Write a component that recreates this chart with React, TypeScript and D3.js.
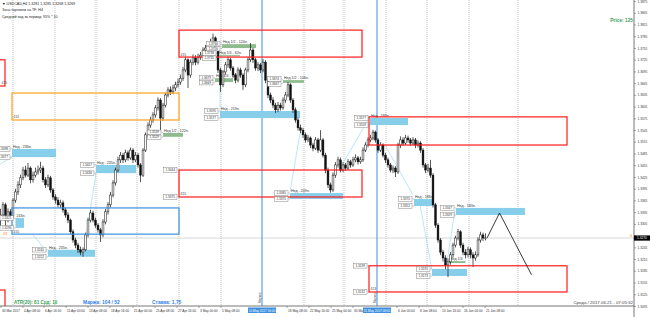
import React from "react";
import * as d3 from "d3";

type C = [number, number, number, number]; // open, high, low, close

// USDCAD H4 candles, 30 Mar - 10 May 2017
const candlesMarApr: C[] = [
  [1.3316,1.3345,1.3300,1.3329],[1.3329,1.3362,1.3322,1.3355],[1.3355,1.3360,1.3297,1.3316],[1.3316,1.3346,1.3310,1.3337],
  [1.3337,1.3344,1.3318,1.3326],[1.3326,1.3372,1.3320,1.3367],[1.3367,1.3396,1.3360,1.3388],[1.3388,1.3415,1.3380,1.3406],
  [1.3406,1.3432,1.3398,1.3424],[1.3424,1.3452,1.3418,1.3444],[1.3444,1.3455,1.3425,1.3431],[1.3431,1.3462,1.3426,1.3449],
  [1.3449,1.3453,1.3410,1.3419],[1.3419,1.3440,1.3412,1.3431],[1.3431,1.3450,1.3425,1.3439],[1.3439,1.3455,1.3432,1.3444],
  [1.3444,1.3465,1.3436,1.3449],[1.3449,1.3455,1.3412,1.3419],[1.3419,1.3426,1.3398,1.3406],[1.3406,1.3432,1.3400,1.3424],
  [1.3424,1.3429,1.3386,1.3393],[1.3393,1.3398,1.3368,1.3375],[1.3375,1.3382,1.3358,1.3367],[1.3367,1.3374,1.3348,1.3355],
  [1.3355,1.3368,1.3347,1.3360],[1.3360,1.3366,1.3335,1.3342],[1.3342,1.3348,1.3322,1.3329],[1.3329,1.3336,1.3308,1.3316],
  [1.3316,1.3320,1.3280,1.3286],[1.3286,1.3292,1.3258,1.3265],[1.3265,1.3271,1.3244,1.3252],[1.3252,1.3258,1.3232,1.3240],
  [1.3240,1.3248,1.3226,1.3234],[1.3234,1.3246,1.3222,1.3240],[1.3240,1.3284,1.3236,1.3278],[1.3278,1.3322,1.3272,1.3316],
  [1.3316,1.3342,1.3310,1.3334],[1.3334,1.3340,1.3310,1.3316],[1.3316,1.3322,1.3296,1.3303],[1.3303,1.3308,1.3284,1.3291],
  [1.3291,1.3296,1.3260,1.3278],[1.3278,1.3318,1.3272,1.3311],[1.3311,1.3344,1.3305,1.3337],[1.3337,1.3362,1.3330,1.3355],
  [1.3355,1.3388,1.3348,1.3380],[1.3380,1.3418,1.3374,1.3411],[1.3411,1.3450,1.3404,1.3444],[1.3444,1.3478,1.3438,1.3470],
  [1.3470,1.3490,1.3462,1.3482],[1.3482,1.3488,1.3462,1.3470],[1.3470,1.3496,1.3464,1.3488],[1.3488,1.3494,1.3468,1.3475],
  [1.3475,1.3502,1.3470,1.3495],[1.3495,1.3500,1.3462,1.3470],[1.3470,1.3490,1.3464,1.3482],[1.3482,1.3488,1.3450,1.3457],
  [1.3457,1.3462,1.3413,1.3431],[1.3431,1.3500,1.3426,1.3495],[1.3495,1.3540,1.3490,1.3534],[1.3534,1.3566,1.3528,1.3559],
  [1.3559,1.3580,1.3552,1.3572],[1.3572,1.3592,1.3565,1.3585],[1.3585,1.3610,1.3578,1.3603],[1.3603,1.3630,1.3596,1.3623],
  [1.3623,1.3628,1.3546,1.3577],[1.3577,1.3616,1.3570,1.3610],[1.3610,1.3642,1.3604,1.3636],[1.3636,1.3656,1.3630,1.3649],
  [1.3649,1.3658,1.3636,1.3644],[1.3644,1.3662,1.3638,1.3654],[1.3654,1.3670,1.3646,1.3662],
];
const candlesMay: C[] = [
  [1.3662,1.3678,1.3655,1.3669],[1.3669,1.3688,1.3662,1.3679],[1.3679,1.3708,1.3672,1.3700],[1.3700,1.3734,1.3694,1.3726],
  [1.3726,1.3730,1.3654,1.3687],[1.3687,1.3727,1.3680,1.3720],[1.3720,1.3740,1.3712,1.3731],[1.3731,1.3738,1.3712,1.3720],
  [1.3720,1.3742,1.3714,1.3733],[1.3733,1.3746,1.3726,1.3738],[1.3738,1.3758,1.3730,1.3751],[1.3751,1.3764,1.3744,1.3756],
  [1.3756,1.3772,1.3748,1.3764],[1.3764,1.3780,1.3757,1.3772],[1.3772,1.3793,1.3765,1.3782],[1.3782,1.3786,1.3744,1.3751],
  [1.3751,1.3756,1.3692,1.3700],[1.3700,1.3706,1.3644,1.3662],[1.3662,1.3700,1.3656,1.3695],[1.3695,1.3720,1.3688,1.3713],
  [1.3713,1.3734,1.3706,1.3726],[1.3726,1.3731,1.3698,1.3705],[1.3705,1.3710,1.3680,1.3687],[1.3687,1.3692,1.3666,1.3674],
  [1.3674,1.3707,1.3668,1.3700],[1.3700,1.3706,1.3680,1.3687],[1.3687,1.3692,1.3649,1.3662],[1.3662,1.3706,1.3656,1.3700],
  [1.3700,1.3733,1.3694,1.3726],[1.3726,1.3769,1.3720,1.3751],[1.3751,1.3756,1.3718,1.3726],[1.3726,1.3731,1.3698,1.3705],
  [1.3705,1.3720,1.3697,1.3713],[1.3713,1.3718,1.3692,1.3700],[1.3700,1.3728,1.3694,1.3720],[1.3720,1.3725,1.3666,1.3674],
  [1.3674,1.3680,1.3628,1.3636],[1.3636,1.3642,1.3615,1.3623],[1.3623,1.3630,1.3602,1.3610],[1.3610,1.3616,1.3590,1.3598],
  [1.3598,1.3618,1.3592,1.3610],[1.3610,1.3616,1.3596,1.3603],[1.3603,1.3630,1.3598,1.3623],[1.3623,1.3644,1.3616,1.3636],
  [1.3636,1.3669,1.3630,1.3662],[1.3662,1.3666,1.3616,1.3623],[1.3623,1.3628,1.3590,1.3598],[1.3598,1.3604,1.3565,1.3572],
  [1.3572,1.3578,1.3545,1.3552],[1.3552,1.3560,1.3538,1.3546],[1.3546,1.3552,1.3526,1.3534],[1.3534,1.3540,1.3514,1.3521],
  [1.3521,1.3534,1.3515,1.3526],[1.3526,1.3530,1.3500,1.3508],[1.3508,1.3514,1.3492,1.3500],[1.3500,1.3528,1.3495,1.3521],
  [1.3521,1.3526,1.3488,1.3495],[1.3495,1.3546,1.3490,1.3521],[1.3521,1.3526,1.3476,1.3482],[1.3482,1.3488,1.3436,1.3444],
  [1.3444,1.3450,1.3398,1.3406],[1.3406,1.3412,1.3386,1.3393],[1.3393,1.3438,1.3388,1.3431],[1.3431,1.3464,1.3424,1.3457],
  [1.3457,1.3478,1.3450,1.3470],[1.3470,1.3476,1.3438,1.3444],[1.3444,1.3464,1.3438,1.3457],[1.3457,1.3462,1.3442,1.3449],
  [1.3449,1.3472,1.3444,1.3465],[1.3465,1.3470,1.3450,1.3457],[1.3457,1.3478,1.3452,1.3470],[1.3470,1.3484,1.3464,1.3475],
  [1.3475,1.3480,1.3458,1.3465],[1.3465,1.3478,1.3460,1.3470],[1.3470,1.3502,1.3465,1.3495],[1.3495,1.3515,1.3490,1.3508],
  [1.3508,1.3528,1.3502,1.3521],[1.3521,1.3534,1.3515,1.3526],[1.3526,1.3547,1.3520,1.3541],[1.3541,1.3545,1.3514,1.3521],
  [1.3521,1.3526,1.3488,1.3495],[1.3495,1.3515,1.3490,1.3508],[1.3508,1.3512,1.3476,1.3482],[1.3482,1.3488,1.3462,1.3470],
  [1.3470,1.3476,1.3450,1.3457],[1.3457,1.3462,1.3438,1.3444],[1.3444,1.3456,1.3436,1.3449],[1.3449,1.3454,1.3426,1.3439],
];
const candlesJun: C[] = [
  [1.3439,1.3514,1.3434,1.3508],[1.3508,1.3530,1.3500,1.3521],[1.3521,1.3528,1.3506,1.3513],[1.3513,1.3534,1.3508,1.3526],
  [1.3526,1.3532,1.3514,1.3521],[1.3521,1.3526,1.3506,1.3513],[1.3513,1.3528,1.3508,1.3521],[1.3521,1.3526,1.3500,1.3508],
  [1.3508,1.3520,1.3502,1.3513],[1.3513,1.3518,1.3488,1.3495],[1.3495,1.3500,1.3450,1.3457],[1.3457,1.3462,1.3436,1.3444],
  [1.3444,1.3460,1.3438,1.3449],[1.3449,1.3470,1.3424,1.3431],[1.3431,1.3436,1.3348,1.3355],[1.3355,1.3360,1.3296,1.3303],
  [1.3303,1.3308,1.3258,1.3265],[1.3265,1.3270,1.3226,1.3234],[1.3234,1.3240,1.3210,1.3219],[1.3219,1.3226,1.3190,1.3201],
  [1.3201,1.3218,1.3170,1.3209],[1.3209,1.3234,1.3202,1.3227],[1.3227,1.3258,1.3220,1.3252],[1.3252,1.3276,1.3246,1.3270],
  [1.3270,1.3293,1.3264,1.3286],[1.3286,1.3290,1.3245,1.3252],[1.3252,1.3258,1.3226,1.3234],[1.3234,1.3242,1.3218,1.3227],
  [1.3227,1.3248,1.3220,1.3240],[1.3240,1.3246,1.3218,1.3227],[1.3227,1.3234,1.3196,1.3219],[1.3219,1.3236,1.3212,1.3227],
  [1.3227,1.3272,1.3222,1.3265],[1.3265,1.3286,1.3258,1.3278],[1.3278,1.3284,1.3262,1.3270],[1.3270,1.3282,1.3264,1.3270],
];

const bidPrice = 1.3270;

// right price scale labels
const priceTicks = [1.3875,1.3845,1.3815,1.3785,1.3755,1.3725,1.3695,1.3665,1.3635,1.3605,1.3575,1.3545,1.3515,1.3485,
  1.3455,1.3425,1.3395,1.3365,1.3335,1.3305,1.3275,1.3245,1.3215,1.3185,1.3155,1.3125,1.3095];

// time scale labels (bar index where the label starts)
const timeIdx = [0.2,9,17.4,26.2,35,43.8,53,61.8,70.6,79.4,88.2,114.6,123.4,132.2,141,158.6,167.4,176.2,185,193.8];
const timeText = ["30 Mar 2017","4 Apr 08:00","6 Apr 16:00","11 Apr 00:00","13 Apr 08:00","18 Apr 16:00","21 Apr 00:00",
  "25 Apr 08:00","27 Apr 16:00","3 May 00:00","5 May 08:00","18 May 08:00","22 May 16:00","25 May 00:00","30 May 08:00",
  "6 Jun 00:00","8 Jun 08:00","13 Jun 16:00","16 Jun 00:00","21 Jun 08:00"];

// vertical grid (bar index)
const gridIdx = [5,21.8,38.2,54.6,71.4,88.2,121.4,137.4,154.2,170.6,187.4,207];
// vertical marker lines
const markerIdx = [104.6, 150.6];
const markerText = ["10 May 2017 16:00", "31 May 2017 08:00"];

// zones: start idx, end idx, top price, bottom price, type
const zoneStart = [71.4, -4.2, 4.6, 4.6, 71.4, 147.4, 147.4, -4.2];
const zoneEnd = [144.6, 1.8, 71.4, 71.4, 144.6, 226.6, 226.6, 1.8];
const zoneTop = [1.3802, 1.3726, 1.3641, 1.3347, 1.3444, 1.3580, 1.3199, 1.3137];
const zoneBottom = [1.3733, 1.3659, 1.3572, 1.3280, 1.3375, 1.3508, 1.3132, 1.3080];
const zoneType = ["sell", "sell", "month", "week", "sell", "sell", "sell", "sell"];
const zoneTag = ["415", "415", "415", "415", "415", "", "413", ""];
const taggedZones = [4, 6];

// weekly range bars "Нед"
const weekStart = [4.6, 38.2, 19, 6, 87.8, 115.8, 147.8, 165.4, 182.2, 172.6];
const weekEnd = [22.2, 54.2, 37.8, 9.4, 119.8, 137, 163, 173.4, 209.8, 186.6];
const weekHigh = [1.3498, 1.3457, 1.3240, 1.3321, 1.3595, 1.3385, 1.3577, 1.3370, 1.3347, 1.3191];
const weekLow = [1.3477, 1.3436, 1.3222, 1.3296, 1.3577, 1.3370, 1.3559, 1.3352, 1.3329, 1.3173];
const weekText = ["Нед - 236п.", "Нед - 235п.", "Нед - 235п.", "243п.", "Нед - 219п.", "Нед - 209п.",
  "Нед - 189п.", "Нед - 186п.", "Нед - 183п.", ""];

// half / quarter week bars
const halfStart = [65, 88.6, 87, 85.8, 113, 179.4];
const halfEnd = [73, 102.2, 95.8, 93, 121.4, 186];
const halfHigh = [1.3539, 1.3766, 1.3738, 1.3679, 1.3674, 1.3211];
const halfLow = [1.3529, 1.3756, 1.3735, 1.3669, 1.3667, 1.3206];
const halfText = ["Нед 1/2 - 122п.", "Нед 1/2 - 124п.", "Нед 1/4 - 62п.", "Нед 1/4 - 121п.", "Нед 1/2 - 106п.", "Нед 1/4"];

// thin connecting lines: [idx1, price1, idx2, price2]
const connectors: [number, number, number, number][] = [
  [4.6, 1.3477, -0.2, 1.3459], [13, 1.3278, 19, 1.3232], [38.2, 1.3436, 33.4, 1.3240],
  [115.8, 1.3388, 119.8, 1.3538], [137, 1.3462, 147, 1.3572], [153.8, 1.3508, 165, 1.3380],
  [167.8, 1.3355, 172.6, 1.3188], [181.8, 1.3342, 178.6, 1.3209], [87.8, 1.3667, 87.8, 1.3598],
];

// projected path
const projIdx = [194.6, 199.6, 212.4];
const projPrice = [1.3270, 1.3334, 1.3176];

const W = 650, H = 317;
const plotRight = 634, plotBottom = 306;
const font = "'Liberation Sans', Arial, sans-serif";

const zoneColor: Record<string, string> = { sell: "#ff1a1a", month: "#ffa31a", week: "#3d8fe0" };

export default function App() {
  const candles = [...candlesMarApr, ...candlesMay, ...candlesJun];
  const x = d3.scaleLinear().domain([0, 194]).range([0.5, 485.5]);
  const y = d3.scaleLinear().domain([1.3091, 1.3879]).range([308, 0]);
  const fmt = (p: number) => p.toFixed(4);
  const bw = 1.8;

  const box = (xr: number, yc: number, v: number, key: string) => (
    <g key={key}>
      <rect x={xr - 14} y={yc - 2.3} width={13.5} height={4.6} fill="#fff" stroke="#7a7a7a" strokeWidth={0.45} />
      <text x={xr - 7.25} y={yc + 1.1} fontSize={3.1} textAnchor="middle" fill="#333" fontFamily={font}>{fmt(v)}</text>
    </g>
  );

  const pair = (startPx: number, top: number, bottom: number, key: string) => {
    const yt = y(top), yb = y(bottom);
    const mid = (yt + yb) / 2;
    const c1 = Math.min(yt, mid - 2.5);
    const c2 = Math.max(yb, mid + 2.5);
    const xr = startPx - 1.5;
    return (
      <g key={key}>
        <line x1={xr} x2={startPx} y1={c1} y2={yt} stroke="#7a7a7a" strokeWidth={0.4} />
        <line x1={xr} x2={startPx} y1={c2} y2={yb} stroke="#7a7a7a" strokeWidth={0.4} />
        {box(xr, c1, top, key + "a")}
        {box(xr, c2, bottom, key + "b")}
      </g>
    );
  };

  const line = d3.line<number>().x((_, i) => x(projIdx[i])).y((_, i) => y(projPrice[i]));

  return (
    <svg width={W} height={H} style={{ position: "absolute", left: 0, top: 0, background: "#fff" }} fontFamily={font}>
      <defs>
        <clipPath id="plot"><rect x={0} y={0} width={plotRight} height={plotBottom} /></clipPath>
      </defs>
      <rect x={0} y={0} width={W} height={H} fill="#fff" />
      <g clipPath="url(#plot)">
        {gridIdx.map((g, i) => (
          <line key={"g" + i} x1={x(g)} x2={x(g)} y1={0} y2={plotBottom} stroke="#9a9a9a" strokeWidth={0.6} strokeDasharray="1,1" />
        ))}
        <line x1={0} x2={plotRight} y1={y(bidPrice)} y2={y(bidPrice)} stroke="#c8c8c8" strokeWidth={0.7} />
        {markerIdx.map((m, i) => (
          <g key={"m" + i}>
            <line x1={x(m)} x2={x(m)} y1={0} y2={plotBottom} stroke="#3d8fe0" strokeWidth={1} />
            <text transform={`translate(${x(m) - 1.5},${plotBottom - 3}) rotate(-90)`} fontSize={3} fill="#555">Маркер</text>
          </g>
        ))}
        {connectors.map((c, i) => (
          <line key={"c" + i} x1={x(c[0])} y1={y(c[1])} x2={x(c[2])} y2={y(c[3])} stroke="#8fd3f0" strokeWidth={0.6} />
        ))}
        {weekStart.map((s, i) => (
          <g key={"w" + i}>
            <rect x={x(s)} y={y(weekHigh[i])} width={x(weekEnd[i]) - x(s)} height={y(weekLow[i]) - y(weekHigh[i])} fill="#87ceeb" />
            {weekText[i] && <text x={x(s) + 1} y={y(weekHigh[i]) - 1.2} fontSize={3.6} fill="#333">{weekText[i]}</text>}
          </g>
        ))}
        {halfStart.map((s, i) => (
          <g key={"h" + i}>
            <rect x={x(s)} y={y(halfHigh[i])} width={x(halfEnd[i]) - x(s)} height={y(halfLow[i]) - y(halfHigh[i])} fill="#8fbc8f" />
            <text x={x(s) + 1} y={y(halfHigh[i]) - 1.2} fontSize={3.6} fill="#333">{halfText[i]}</text>
          </g>
        ))}
        {candles.map((c, i) => {
          const [o, h, l, cl] = c;
          const bull = cl >= o;
          const top = y(Math.max(o, cl));
          const bh = Math.max(0.6, Math.abs(y(o) - y(cl)));
          return (
            <g key={"k" + i}>
              <line x1={x(i)} x2={x(i)} y1={y(h)} y2={y(l)} stroke="#111" strokeWidth={0.7} />
              <rect x={x(i) - bw / 2} y={top} width={bw} height={bh}
                fill={bull ? "#fff" : "#111"} stroke="#111" strokeWidth={0.5} />
            </g>
          );
        })}
        {zoneStart.map((s, i) => (
          <g key={"z" + i}>
            <rect x={x(s)} y={y(zoneTop[i])} width={x(zoneEnd[i]) - x(s)} height={y(zoneBottom[i]) - y(zoneTop[i])}
              fill="none" stroke={zoneColor[zoneType[i]]} strokeWidth={1.2} />
            {zoneTag[i] && (
              <text x={Math.max(x(s), 0) + 1.5} y={y(zoneBottom[i]) - 1.5} fontSize={3.4} fill="#444">{zoneTag[i]}</text>
            )}
          </g>
        ))}
        {taggedZones.map((zi) => pair(x(zoneStart[zi]), zoneTop[zi], zoneBottom[zi], "tz" + zi))}
        {weekStart.map((s, i) => pair(x(s), weekHigh[i], weekLow[i], "wb" + i))}
        {halfStart.map((s, i) => (i === 5 ? null : pair(x(s), halfHigh[i], halfLow[i], "hb" + i)))}
        <path d={line(projPrice) || ""} fill="none" stroke="#222" strokeWidth={0.9} />
        <text x={3} y={235} fontSize={3.4} fill="#ff7f27">3/1</text>
      </g>

      {/* price axis */}
      <line x1={plotRight} x2={plotRight} y1={0} y2={H} stroke="#555" strokeWidth={0.8} />
      {priceTicks.map((p, i) => (
        <g key={"p" + i}>
          <line x1={plotRight} x2={plotRight + 2} y1={y(p)} y2={y(p)} stroke="#555" strokeWidth={0.5} />
          {Math.abs(y(p) - y(bidPrice)) > 5 && (
            <text x={plotRight + 3.5} y={y(p) + 1.1} fontSize={3.2} fill="#333">{fmt(p)}</text>
          )}
        </g>
      ))}
      <rect x={plotRight} y={y(bidPrice) - 2.6} width={16} height={5.2} fill="#000" />
      <text x={plotRight + 3} y={y(bidPrice) + 1.2} fontSize={3.2} fill="#fff">{fmt(bidPrice)}</text>
      <text x={plotRight - 2} y={y(bidPrice) - 0.8} fontSize={4} fill="#ff7f27" textAnchor="end">3</text>

      {/* time axis */}
      <line x1={0} x2={plotRight} y1={plotBottom} y2={plotBottom} stroke="#555" strokeWidth={0.8} />
      {timeIdx.map((t, i) => (
        <g key={"t" + i}>
          <line x1={x(t)} x2={x(t)} y1={plotBottom} y2={plotBottom + 2} stroke="#555" strokeWidth={0.5} />
          <text x={x(t) + 1} y={plotBottom + 6} fontSize={3.2} fill="#333">{timeText[i]}</text>
        </g>
      ))}
      {markerIdx.map((m, i) => (
        <g key={"mt" + i}>
          <rect x={x(m) - 14} y={plotBottom + 1.5} width={28} height={5.5} fill="#3d8fe0" />
          <text x={x(m)} y={plotBottom + 5.5} fontSize={3.1} fill="#fff" textAnchor="middle">{markerText[i]}</text>
        </g>
      ))}

      {/* header & info texts */}
      <text x={2} y={4.5} fontSize={3.6} fill="#222">▼ USDCAD,H4  1.3281 1.3285 1.3268 1.3269</text>
      <text x={2} y={11} fontSize={3.6} fill="#222">Зона торговли на TF: H4</text>
      <text x={2} y={17.5} fontSize={3.6} fill="#222">Средний ход за период: 95% * 10</text>
      <text x={plotRight - 1} y={22} fontSize={4.8} fontWeight="bold" fill="#3ca35a" textAnchor="end">Price: 125</text>
      <text x={14} y={303.5} fontSize={4.6} fontWeight="bold" fill="#3ca35a">ATR(20): 81  Срд: 10</text>
      <text x={83} y={303.5} fontSize={4.9} fontWeight="bold" fill="#2f7fe8">Маржа: 104 / 52</text>
      <text x={152} y={303.5} fontSize={4.9} fontWeight="bold" fill="#2f7fe8">Ставка: 1,75</text>
      <text x={plotRight - 1} y={304} fontSize={4.4} fill="#444" textAnchor="end">Среда / 2017.06.21 - 07:05:32</text>
    </svg>
  );
}
